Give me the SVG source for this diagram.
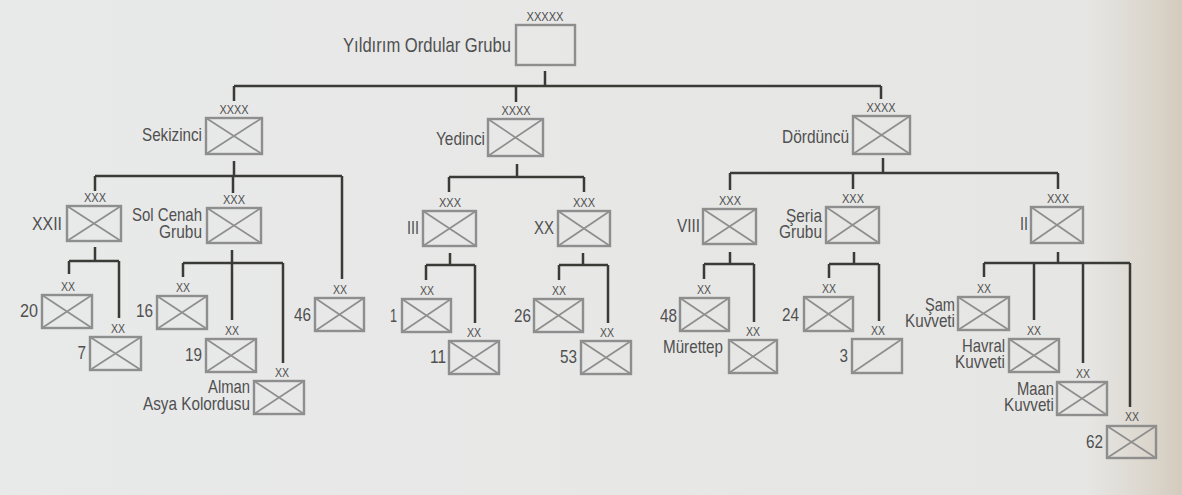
<svg xmlns="http://www.w3.org/2000/svg" width="1182" height="495" viewBox="0 0 1182 495">
<defs>
<linearGradient id="bg" x1="0" y1="0" x2="1" y2="0">
<stop offset="0" stop-color="#e8e9e9"/>
<stop offset="0.92" stop-color="#e6e6e4"/>
<stop offset="0.97" stop-color="#dcd7ce"/>
<stop offset="1" stop-color="#d3cbbd"/>
</linearGradient>
<style>
.box{fill:none;stroke:#8e8e8e;stroke-width:2.4}
.x{fill:none;stroke:#8e8e8e;stroke-width:1.7}
.conn path{fill:none;stroke:#3a3a37;stroke-width:2.5}
text{font-family:"Liberation Sans",Arial,sans-serif;fill:#505050}
.n{font-size:18.5px;text-anchor:end}
.e{font-size:12.5px;text-anchor:middle}
</style>
</defs>
<rect x="0" y="0" width="1182" height="495" fill="url(#bg)"/>

<g id="connectors" class="conn">
<path d="M545,71V86M234,86H881M234,86V101M516,86V102M881,86V99"/>
<path d="M234,161V176M95,176H342M95,176V191M233,176V193M342,176V279"/>
<path d="M95,247V261M69,261H119M69,261V274M119,261V318"/>
<path d="M232,250V320M183,263H283M183,263V277M283,263V363"/>
<path d="M517,164V177M449,177H584M449,177V192M584,177V192"/>
<path d="M450,253V265M426,265H475M426,265V280M475,265V323"/>
<path d="M583,253V265M559,265H608M559,265V280M608,265V323"/>
<path d="M883,158V173M730,173H1058M730,173V190M853,173V189M1058,173V189"/>
<path d="M730,252V264M704,264H754M704,264V279M754,264V322"/>
<path d="M854,252V264M829,264H879M829,264V278M879,264V321"/>
<path d="M1058,252V263M984,263H1130M984,263V277M1034,263V320M1083,263V363M1130,263V407"/>
</g>

<g id="yildirim">
<rect class="box" x="516" y="25" width="59" height="40"/>
<text class="e" x="545" y="21" textLength="37" lengthAdjust="spacingAndGlyphs">XXXXX</text>
<text class="n" x="511" y="52" style="font-size:21px" textLength="168" lengthAdjust="spacingAndGlyphs">Yıldırım Ordular Grubu</text>
</g>

<g id="sekizinci">
<rect class="box" x="206" y="118" width="56" height="36"/>
<path class="x" d="M206,118L262,154M206,154L262,118"/>
<text class="e" x="234" y="114" textLength="29" lengthAdjust="spacingAndGlyphs">XXXX</text>
<text class="n" x="202" y="141" textLength="60" lengthAdjust="spacingAndGlyphs">Sekizinci</text>
</g>
<g id="yedinci">
<rect class="box" x="488" y="119" width="55" height="37"/>
<path class="x" d="M488,119L543,156M488,156L543,119"/>
<text class="e" x="516" y="115" textLength="29" lengthAdjust="spacingAndGlyphs">XXXX</text>
<text class="n" x="485" y="145" textLength="49" lengthAdjust="spacingAndGlyphs">Yedinci</text>
</g>
<g id="dorduncu">
<rect class="box" x="853" y="116" width="57" height="38"/>
<path class="x" d="M853,116L910,154M853,154L910,116"/>
<text class="e" x="881" y="112" textLength="29" lengthAdjust="spacingAndGlyphs">XXXX</text>
<text class="n" x="849" y="143" textLength="67" lengthAdjust="spacingAndGlyphs">Dördüncü</text>
</g>

<g id="xxii">
<rect class="box" x="67" y="206" width="54" height="35"/>
<path class="x" d="M67,206L121,241M67,241L121,206"/>
<text class="e" x="95" y="202" textLength="22" lengthAdjust="spacingAndGlyphs">XXX</text>
<text class="n" x="62" y="230" textLength="30" lengthAdjust="spacingAndGlyphs">XXII</text>
</g>
<g id="solcenah">
<rect class="box" x="207" y="208" width="54" height="35"/>
<path class="x" d="M207,208L261,243M207,243L261,208"/>
<text class="e" x="234" y="204" textLength="22" lengthAdjust="spacingAndGlyphs">XXX</text>
<text class="n" x="202" y="221" textLength="70" lengthAdjust="spacingAndGlyphs">Sol Cenah</text>
<text class="n" x="202" y="238" textLength="43" lengthAdjust="spacingAndGlyphs">Grubu</text>
</g>
<g id="iii">
<rect class="box" x="423" y="211" width="53" height="35"/>
<path class="x" d="M423,211L476,246M423,246L476,211"/>
<text class="e" x="450" y="207" textLength="22" lengthAdjust="spacingAndGlyphs">XXX</text>
<text class="n" x="419" y="234" textLength="12" lengthAdjust="spacingAndGlyphs">III</text>
</g>
<g id="xx">
<rect class="box" x="558" y="211" width="52" height="35"/>
<path class="x" d="M558,211L610,246M558,246L610,211"/>
<text class="e" x="584" y="207" textLength="22" lengthAdjust="spacingAndGlyphs">XXX</text>
<text class="n" x="554" y="234" textLength="20" lengthAdjust="spacingAndGlyphs">XX</text>
</g>
<g id="viii">
<rect class="box" x="703" y="209" width="53" height="35"/>
<path class="x" d="M703,209L756,244M703,244L756,209"/>
<text class="e" x="730" y="205" textLength="22" lengthAdjust="spacingAndGlyphs">XXX</text>
<text class="n" x="700" y="232" textLength="23" lengthAdjust="spacingAndGlyphs">VIII</text>
</g>
<g id="seria">
<rect class="box" x="826" y="207" width="53" height="36"/>
<path class="x" d="M826,207L879,243M826,243L879,207"/>
<text class="e" x="853" y="203" textLength="22" lengthAdjust="spacingAndGlyphs">XXX</text>
<text class="n" x="822" y="221.5" textLength="36" lengthAdjust="spacingAndGlyphs">Şeria</text>
<text class="n" x="822" y="238" textLength="43" lengthAdjust="spacingAndGlyphs">Grubu</text>
</g>
<g id="ii">
<rect class="box" x="1031" y="207" width="52" height="36"/>
<path class="x" d="M1031,207L1083,243M1031,243L1083,207"/>
<text class="e" x="1058" y="203" textLength="22" lengthAdjust="spacingAndGlyphs">XXX</text>
<text class="n" x="1028" y="230" textLength="8" lengthAdjust="spacingAndGlyphs">II</text>
</g>

<g id="d20">
<rect class="box" x="42" y="295" width="50" height="33"/>
<path class="x" d="M42,295L92,328M42,328L92,295"/>
<text class="e" x="68" y="291" textLength="14" lengthAdjust="spacingAndGlyphs">XX</text>
<text class="n" x="38" y="317" textLength="18" lengthAdjust="spacingAndGlyphs">20</text>
</g>
<g id="d7">
<rect class="box" x="90" y="337" width="51" height="33"/>
<path class="x" d="M90,337L141,370M90,370L141,337"/>
<text class="e" x="118" y="333" textLength="14" lengthAdjust="spacingAndGlyphs">XX</text>
<text class="n" x="86" y="359" textLength="8.5" lengthAdjust="spacingAndGlyphs">7</text>
</g>
<g id="d16">
<rect class="box" x="157" y="296" width="50" height="33"/>
<path class="x" d="M157,296L207,329M157,329L207,296"/>
<text class="e" x="183" y="292" textLength="14" lengthAdjust="spacingAndGlyphs">XX</text>
<text class="n" x="153" y="317" textLength="17" lengthAdjust="spacingAndGlyphs">16</text>
</g>
<g id="d19">
<rect class="box" x="206" y="339" width="50" height="33"/>
<path class="x" d="M206,339L256,372M206,372L256,339"/>
<text class="e" x="232" y="335" textLength="14" lengthAdjust="spacingAndGlyphs">XX</text>
<text class="n" x="202" y="361" textLength="17" lengthAdjust="spacingAndGlyphs">19</text>
</g>
<g id="alman">
<rect class="box" x="254" y="381" width="50" height="33"/>
<path class="x" d="M254,381L304,414M254,414L304,381"/>
<text class="e" x="282" y="377" textLength="14" lengthAdjust="spacingAndGlyphs">XX</text>
<text class="n" x="250" y="393" textLength="42" lengthAdjust="spacingAndGlyphs">Alman</text>
<text class="n" x="250" y="410" textLength="107" lengthAdjust="spacingAndGlyphs">Asya Kolordusu</text>
</g>
<g id="d46">
<rect class="box" x="315" y="298" width="49" height="33"/>
<path class="x" d="M315,298L364,331M315,331L364,298"/>
<text class="e" x="340" y="294" textLength="14" lengthAdjust="spacingAndGlyphs">XX</text>
<text class="n" x="311" y="321" textLength="17" lengthAdjust="spacingAndGlyphs">46</text>
</g>
<g id="d1">
<rect class="box" x="402" y="299" width="49" height="33"/>
<path class="x" d="M402,299L451,332M402,332L451,299"/>
<text class="e" x="427" y="295" textLength="14" lengthAdjust="spacingAndGlyphs">XX</text>
<text class="n" x="397" y="322" textLength="7" lengthAdjust="spacingAndGlyphs">1</text>
</g>
<g id="d11">
<rect class="box" x="449" y="341" width="50" height="33"/>
<path class="x" d="M449,341L499,374M449,374L499,341"/>
<text class="e" x="474" y="337" textLength="14" lengthAdjust="spacingAndGlyphs">XX</text>
<text class="n" x="446" y="363" textLength="16" lengthAdjust="spacingAndGlyphs">11</text>
</g>
<g id="d26">
<rect class="box" x="534" y="299" width="49" height="33"/>
<path class="x" d="M534,299L583,332M534,332L583,299"/>
<text class="e" x="559" y="295" textLength="14" lengthAdjust="spacingAndGlyphs">XX</text>
<text class="n" x="531" y="322" textLength="17" lengthAdjust="spacingAndGlyphs">26</text>
</g>
<g id="d53">
<rect class="box" x="581" y="341" width="50" height="33"/>
<path class="x" d="M581,341L631,374M581,374L631,341"/>
<text class="e" x="607" y="337" textLength="14" lengthAdjust="spacingAndGlyphs">XX</text>
<text class="n" x="577" y="363" textLength="17" lengthAdjust="spacingAndGlyphs">53</text>
</g>
<g id="d48">
<rect class="box" x="680" y="298" width="49" height="33"/>
<path class="x" d="M680,298L729,331M680,331L729,298"/>
<text class="e" x="704" y="294" textLength="14" lengthAdjust="spacingAndGlyphs">XX</text>
<text class="n" x="677" y="322" textLength="17" lengthAdjust="spacingAndGlyphs">48</text>
</g>
<g id="murettep">
<rect class="box" x="729" y="340" width="48" height="33"/>
<path class="x" d="M729,340L777,373M729,373L777,340"/>
<text class="e" x="753" y="336" textLength="14" lengthAdjust="spacingAndGlyphs">XX</text>
<text class="n" x="723" y="353" textLength="60" lengthAdjust="spacingAndGlyphs">Mürettep</text>
</g>
<g id="d24">
<rect class="box" x="804" y="297" width="49" height="34"/>
<path class="x" d="M804,297L853,331M804,331L853,297"/>
<text class="e" x="829" y="293" textLength="14" lengthAdjust="spacingAndGlyphs">XX</text>
<text class="n" x="799" y="321" textLength="17" lengthAdjust="spacingAndGlyphs">24</text>
</g>
<g id="d3">
<rect class="box" x="852" y="339" width="50" height="34"/>
<path class="x" d="M852,373L902,339"/>
<text class="e" x="878" y="335" textLength="14" lengthAdjust="spacingAndGlyphs">XX</text>
<text class="n" x="848" y="362" textLength="8.5" lengthAdjust="spacingAndGlyphs">3</text>
</g>
<g id="sam">
<rect class="box" x="958" y="297" width="51" height="33"/>
<path class="x" d="M958,297L1009,330M958,330L1009,297"/>
<text class="e" x="984" y="293" textLength="14" lengthAdjust="spacingAndGlyphs">XX</text>
<text class="n" x="955" y="311" textLength="30" lengthAdjust="spacingAndGlyphs">Şam</text>
<text class="n" x="955" y="327" textLength="50" lengthAdjust="spacingAndGlyphs">Kuvveti</text>
</g>
<g id="havral">
<rect class="box" x="1009" y="339" width="50" height="33"/>
<path class="x" d="M1009,339L1059,372M1009,372L1059,339"/>
<text class="e" x="1034" y="335" textLength="14" lengthAdjust="spacingAndGlyphs">XX</text>
<text class="n" x="1005" y="352" textLength="43" lengthAdjust="spacingAndGlyphs">Havral</text>
<text class="n" x="1005" y="368" textLength="50" lengthAdjust="spacingAndGlyphs">Kuvveti</text>
</g>
<g id="maan">
<rect class="box" x="1057" y="382" width="50" height="33"/>
<path class="x" d="M1057,382L1107,415M1057,415L1107,382"/>
<text class="e" x="1083" y="378" textLength="14" lengthAdjust="spacingAndGlyphs">XX</text>
<text class="n" x="1054" y="395" textLength="37" lengthAdjust="spacingAndGlyphs">Maan</text>
<text class="n" x="1054" y="411" textLength="50" lengthAdjust="spacingAndGlyphs">Kuvveti</text>
</g>
<g id="d62">
<rect class="box" x="1107" y="426" width="49" height="32"/>
<path class="x" d="M1107,426L1156,458M1107,458L1156,426"/>
<text class="e" x="1132" y="421" textLength="14" lengthAdjust="spacingAndGlyphs">XX</text>
<text class="n" x="1103" y="448" textLength="17" lengthAdjust="spacingAndGlyphs">62</text>
</g>
</svg>
